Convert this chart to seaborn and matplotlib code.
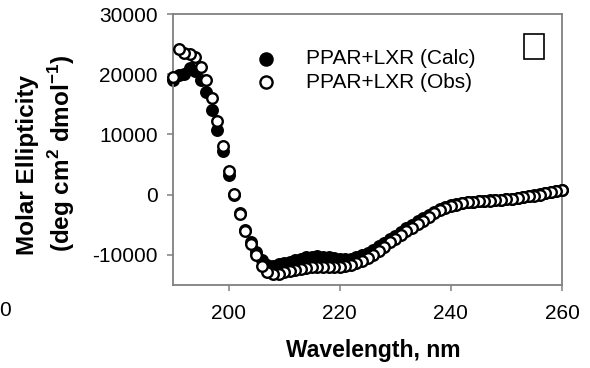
import matplotlib
matplotlib.use("Agg")
import matplotlib.pyplot as plt
import seaborn as sns
import pandas as pd
from matplotlib.patches import Rectangle

# ---- data ----
wavelength = list(range(190, 261))

calc = [19000, 19800, 20000, 21000, 20500, 19000, 17000, 14000, 10700, 7200,
        3300, 0, -3100, -5800, -7800, -9500, -10800, -11600, -11800, -11500,
        -11300, -11100, -10900, -10600, -10400, -10300, -10250, -10300, -10400, -10500,
        -10600, -10600, -10600, -10400, -10100, -9700, -9200, -8600, -8000, -7400,
        -6800, -6200, -5600, -5000, -4400, -3800, -3300, -2800, -2400, -2000,
        -1700, -1500, -1350, -1250, -1150, -1050, -1000, -950, -900, -850,
        -750, -650, -550, -400, -250, -100, 50, 250, 450, 600, 800]

obs = [19500, 24200, 23600, 23300, 22800, 21200, 19000, 16000, 12200, 8000,
       3900, 150, -3200, -6000, -8200, -10100, -11800, -12800, -13200, -13100,
       -12900, -12700, -12500, -12300, -12100, -12000, -11950, -11950, -12000, -12000,
       -12000, -11900, -11700, -11400, -11000, -10500, -10000, -9400, -8700, -7900,
       -7300, -6700, -6100, -5500, -4900, -4300, -3700, -3100, -2600, -2200,
       -1850, -1650, -1450, -1300, -1200, -1100, -1050, -1000, -950, -900,
       -800, -700, -600, -450, -300, -150, 0, 200, 400, 550, 750]

series_labels = ["PPAR+LXR (Calc)", "PPAR+LXR (Obs)"]
x_ticks = [200, 220, 240, 260]
y_ticks = [-10000, 0, 10000, 20000, 30000]

# ---- style ----
sns.set_theme(style="ticks")
plt.rcParams["font.family"] = ["Liberation Sans", "DejaVu Sans"]
plt.rcParams["mathtext.fontset"] = "custom"
plt.rcParams["mathtext.rm"] = "Liberation Sans"
plt.rcParams["mathtext.bf"] = "Liberation Sans:bold"
plt.rcParams["axes.unicode_minus"] = False
plt.rcParams["text.color"] = "black"
plt.rcParams["axes.labelcolor"] = "black"

W, H = 590, 368
fig = plt.figure(figsize=(W / 100, H / 100), dpi=100)
ax = fig.add_axes([173 / W, 1 - 285 / H, (562 - 173) / W, (285 - 14) / H])

df = pd.DataFrame({"Wavelength": wavelength, "Calc": calc, "Obs": obs})
rev = df.iloc[::-1]

MS = 58
LW = 1.7
sns.scatterplot(data=rev, x="Wavelength", y="Calc", ax=ax, color="black",
                edgecolor="black", s=MS, linewidth=LW, label=series_labels[0],
                zorder=2, clip_on=False)
sns.scatterplot(data=rev, x="Wavelength", y="Obs", ax=ax, color="white",
                edgecolor="black", s=MS, linewidth=LW, label=series_labels[1],
                zorder=3, clip_on=False)

ax.set_xlim(190, 260)
ax.set_ylim(-15000, 30000)
ax.set_xticks(x_ticks)
ax.set_yticks(y_ticks)
ax.set_xticklabels([str(t) for t in x_ticks])
ax.set_yticklabels([str(t) for t in y_ticks])
ax.set_xlabel("")
ax.set_ylabel("")

for sp in ax.spines.values():
    sp.set_visible(True)
    sp.set_color("#808080")
    sp.set_linewidth(1.3)

ax.tick_params(axis="both", direction="out", length=4, width=1.1,
               color="#808080", labelsize=15, labelcolor="black")
ax.tick_params(axis="x", pad=10)
ax.tick_params(axis="y", pad=7)

leg = ax.legend(loc="upper left", bbox_to_anchor=(256 / W, 1 - 49 / H),
                bbox_transform=fig.transFigure, frameon=False, fontsize=15,
                handlelength=1.0, handletextpad=1.4, borderpad=0,
                borderaxespad=0, labelspacing=0.22, markerscale=1.15)
for t in leg.get_texts():
    t.set_color("black")

# axis labels
fig.text(373 / W, 1 - 350 / H, "Wavelength, nm", ha="center", va="center",
         fontsize=16.5, fontweight="bold", color="black")
fig.text(28 / W, 1 - 165 / H, "Molar Ellipticity", ha="center", va="center",
         rotation=90, fontsize=17.5, fontweight="bold", color="black")
fig.text(62 / W, 1 - 153 / H,
         r"(deg cm$^{\mathbf{2}}$ dmol$^{\mathbf{-1}}$)", ha="center",
         va="center", rotation=90, fontsize=17.5, fontweight="bold",
         color="black")

# stray label fragment and empty box seen in the reference
fig.text(5 / W, 1 - 310 / H, "0", ha="center", va="center", fontsize=15,
         color="black")
fig.patches.append(Rectangle((524 / W, 1 - 59 / H), 20 / W, 25 / H,
                             transform=fig.transFigure, fill=False,
                             edgecolor="black", linewidth=1.2))

fig.savefig("out.png", dpi=100)
